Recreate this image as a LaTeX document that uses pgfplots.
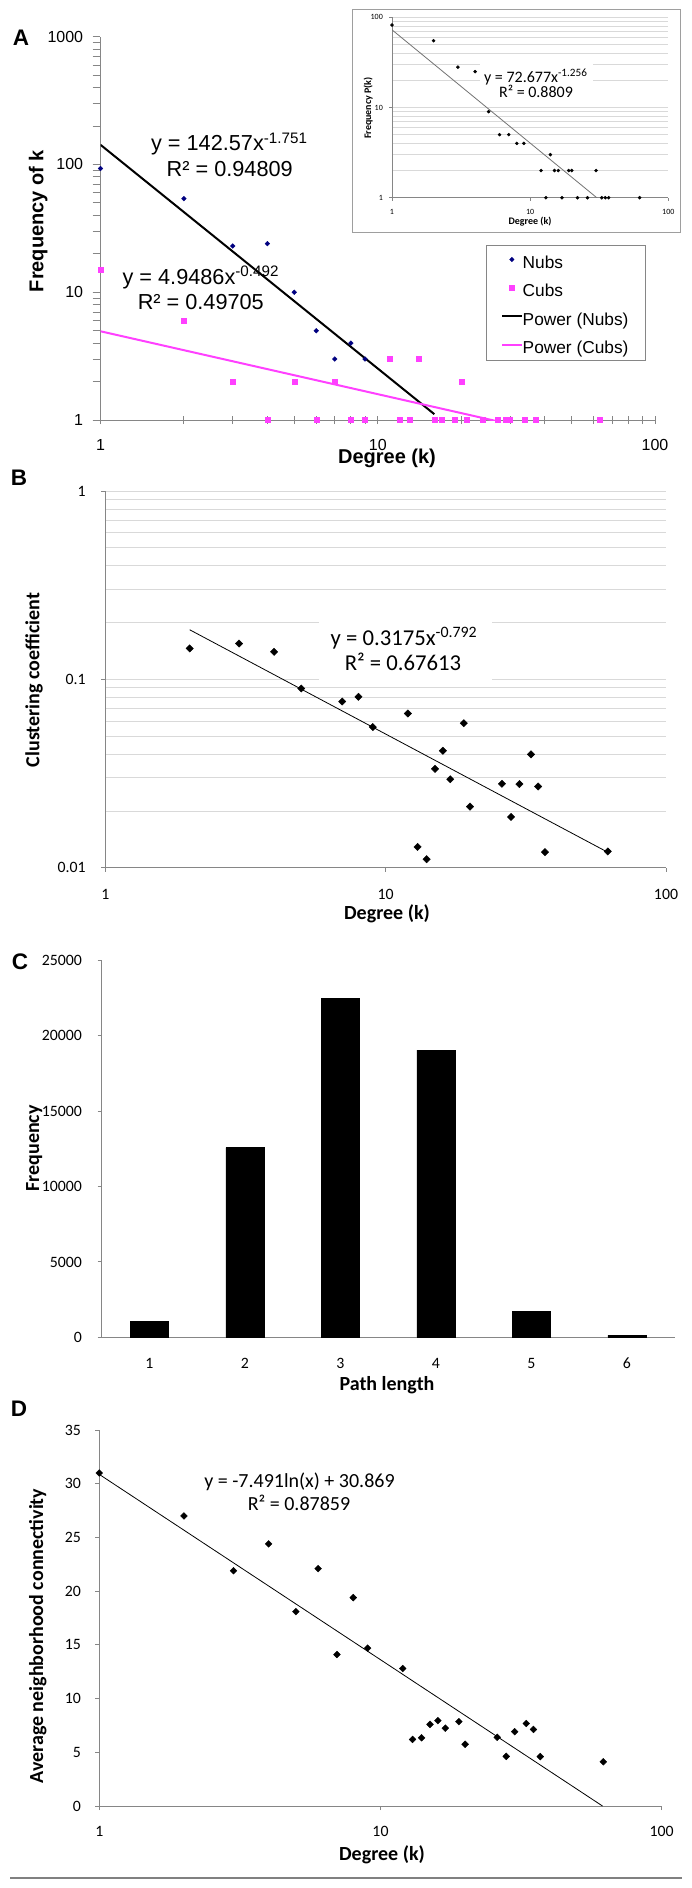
\documentclass[border=0pt]{standalone}
\usepackage{fontspec}
\setmainfont{Liberation Sans}
\newfontfamily\calibri{Carlito}
\usepackage{pgfplots}
\pgfplotsset{compat=1.18}
\definecolor{axgray}{RGB}{134,134,134}
\definecolor{gridgray}{RGB}{217,217,217}
\definecolor{nubs}{RGB}{0,0,128}
\definecolor{cubs}{RGB}{255,64,255}
\newcommand{\fs}[1]{\fontsize{#1}{#1}\selectfont}
\pgfplotsset{
  excel/.style={
    scale only axis,
    axis x line=bottom, axis y line=left,
    axis line style={-, axgray, line width=1pt},
    every tick/.style={axgray, line width=1pt},
    tick label style={inner sep=0pt},
    tick align=outside, major tick length=4pt,
    minor tick length=0pt,
  },
}
\begin{document}
\begin{tikzpicture}
\useasboundingbox (0pt,0pt) rectangle (691pt,-1888pt);

% ---------------- A ----------------
\begin{axis}[excel, xmode=log, ymode=log,
  width=554.5pt, height=383.3pt, at={(100.5pt,-420pt)}, anchor=south west,
  xmin=1, xmax=100, ymin=1, ymax=1000,
  xtick={1,10,100}, xticklabels={1,10,100},
  minor xtick={2,3,4,5,6,7,8,9,20,30,40,50,60,70,80,90},
  ytick={1,10,100,1000}, yticklabels={1,10,100,1000},
  tick align=center, major tick length=8pt, minor tick length=8pt,
  ytick style={xshift=-4pt},
  tick label style={font=\fs{16}},
  xticklabel style={yshift=-15.6pt}, yticklabel style={xshift=-13.2pt},
  legend style={draw=none, fill=none, at={(0.7223,0.4284)}, anchor=north west,
    inner sep=0pt, outer sep=0pt, font=\fs{17.3}, row sep=12.3pt, column sep=0pt,
    nodes={inner sep=0pt, text height=12.5pt, text depth=3.6pt, anchor=base west}},
  legend cell align=left,
  legend image code/.code={\draw[mark repeat=2,mark phase=2,#1] plot coordinates {(0pt,0pt)(9.85pt,0pt)(19.7pt,0pt)};},
  legend image post style={yshift=8.8pt},
]
\addplot[only marks, color=nubs, mark=square*, mark size=1.65pt, mark options={rotate=45}]
  coordinates {(1,93)(2,54)(3,23)(4,24)(5,10)(6,5)(7,3)(8,4)(9,3)};
\addlegendentry{Nubs}
\addplot[only marks, color=cubs, mark=square*, mark size=2.5pt]
  coordinates {(1,15)(2,6)(3,2)(5,2)(7,2)(11,3)(14,3)(20,2)
  (4,1)(6,1)(8,1)(9,1)(12,1)(13,1)(16,1)(17,1)(19,1)(21,1)(24,1)(27,1)(29,1)(30,1)(34,1)(37,1)(63,1)};
\addlegendentry{Cubs}
\addplot[black, line width=2pt] coordinates {(1,142.57)(16,1.111)};
\addlegendentry{Power (Nubs)}
\addplot[cubs, line width=2pt] coordinates {(1,4.9486)(63,0.644)};
\addlegendentry{Power (Cubs)}
\end{axis}
\draw[axgray, line width=1pt] (486pt,-245.7pt) rectangle (645pt,-360.3pt);
\node[font=\fs{21.7}, anchor=base] at (229.3pt,-150.7pt) {y = 142.57x\textsuperscript{-1.751}};
\node[font=\fs{21.7}, anchor=base] at (229.7pt,-176pt) {R² = 0.94809};
\node[font=\fs{21.7}, anchor=base] at (200.8pt,-284pt) {y = 4.9486x\textsuperscript{-0.492}};
\node[font=\fs{21.7}, anchor=base] at (200.8pt,-309.3pt) {R² = 0.49705};
\node[font=\bfseries\fs{20}, rotate=90, anchor=base] at (43.3pt,-221pt) {Frequency of k};
\node[font=\bfseries\fs{20}, anchor=base] at (387pt,-463.5pt) {Degree (k)};
\node[font=\bfseries\fs{22.5}, anchor=base] at (21pt,-45.7pt) {A};

% ---------------- inset ----------------
\fill[white] (352.7pt,-9.3pt) rectangle (680.7pt,-232.3pt);
\draw[axgray!80, line width=1pt] (352.7pt,-9.3pt) rectangle (680.7pt,-232.3pt);
\begin{axis}[excel, xmode=log, ymode=log,
  width=276.3pt, height=180.4pt, at={(392pt,-197.7pt)}, anchor=south west,
  xmin=1, xmax=100, ymin=1, ymax=100,
  xtick={1,10,100}, xticklabels={1,10,100},
  ytick={1,10,100}, yticklabels={1,10,100},
  minor ytick={2,3,4,5,6,7,8,9,20,30,40,50,60,70,80,90},
  ymajorgrids, yminorgrids, grid style={gridgray, line width=0.8pt},
  major tick length=3pt,
  tick label style={font=\calibri\fs{8}},
  xticklabel style={yshift=-8.1pt}, yticklabel style={xshift=-6pt},
]
\addplot[only marks, black, mark=square*, mark size=1.1pt, mark options={rotate=45}]
  coordinates {(1,82)(2,55)(3,28)(4,25)(5,9)(6,5)(7,5)(8,4)(9,4)(12,2)(13,1)(14,3)(15,2)(16,2)
  (17,1)(19,2)(20,2)(22,1)(26,1)(30,2)(33,1)(35,1)(37,1)(62,1)};
\addplot[black!55, line width=0.8pt] coordinates {(1,72.677)(62,0.408)};
\end{axis}
\fill[white] (480pt,-58pt) rectangle (592.7pt,-100pt);
\node[font=\calibri\fs{16}, anchor=base] at (535.8pt,-82.3pt) {y = 72.677x\textsuperscript{-1.256}};
\node[font=\calibri\fs{16}, anchor=base] at (536pt,-97.3pt) {R² = 0.8809};
\node[font=\calibri\bfseries\fs{10}, rotate=90, anchor=base] at (371pt,-108pt) {Frequency P(k)};
\node[font=\calibri\bfseries\fs{10}, anchor=base] at (530pt,-224pt) {Degree (k)};

% ---------------- B ----------------
\begin{axis}[excel, xmode=log, ymode=log,
  width=560.7pt, height=376.7pt, at={(105.3pt,-867.7pt)}, anchor=south west,
  xmin=1, xmax=100, ymin=0.01, ymax=1,
  xtick={1,10,100}, xticklabels={1,10,100},
  ytick={0.01,0.1,1}, yticklabels={0.01,0.1,1},
  minor ytick={0.02,0.03,0.04,0.05,0.06,0.07,0.08,0.09,0.2,0.3,0.4,0.5,0.6,0.7,0.8,0.9},
  ymajorgrids, yminorgrids, grid style={gridgray, line width=1pt},
  tick label style={font=\calibri\fs{15.8}},
  xticklabel style={yshift=-17.3pt}, yticklabel style={xshift=-15.5pt},
]
\addplot[only marks, black, mark=square*, mark size=2.6pt, mark options={rotate=45}]
  coordinates {(2,0.146)(3,0.155)(4,0.140)(5,0.0894)(7,0.0763)(8,0.0808)(9,0.0558)(12,0.0659)
  (13,0.0129)(14,0.0111)(15,0.0335)(16,0.0418)(17,0.0295)(19,0.0585)(20,0.0211)(26,0.0279)
  (28,0.0186)(30,0.0278)(33,0.0400)(35,0.0270)(37,0.0121)(62,0.0122)};
\addplot[black, line width=0.8pt] coordinates {(2,0.1834)(62,0.01208)};
\end{axis}
\fill[white] (319pt,-605pt) rectangle (492pt,-684pt);
\node[font=\calibri\fs{22.7}, anchor=base] at (404pt,-645pt) {y = 0.3175x\textsuperscript{-0.792}};
\node[font=\calibri\fs{22.7}, anchor=base] at (403pt,-670pt) {R² = 0.67613};
\node[font=\calibri\bfseries\fs{20}, rotate=90, anchor=base] at (39.3pt,-680pt) {Clustering coefficient};
\node[font=\calibri\bfseries\fs{20}, anchor=base] at (387pt,-919pt) {Degree (k)};
\node[font=\bfseries\fs{22.5}, anchor=base] at (19pt,-485.7pt) {B};

% ---------------- C ----------------
\begin{axis}[excel,
  width=573pt, height=376.8pt, at={(101.7pt,-1337.3pt)}, anchor=south west,
  xmin=0.5, xmax=6.5, ymin=0, ymax=25000,
  xtick={1,2,3,4,5,6}, xticklabels={1,2,3,4,5,6}, xtick style={draw=none},
  ytick={0,5000,10000,15000,20000,25000}, yticklabels={0,5000,10000,15000,20000,25000},
  scaled y ticks=false,
  tick label style={font=\calibri\fs{15.8}},
  xticklabel style={yshift=-16.5pt}, yticklabel style={xshift=-15.7pt},
]
\addplot[ybar, bar width=0.4, fill=black, draw=black]
  coordinates {(1,1080)(2,12590)(3,22500)(4,19050)(5,1700)(6,130)};
\end{axis}
\node[font=\calibri\bfseries\fs{20}, rotate=90, anchor=base] at (39pt,-1148.3pt) {Frequency};
\node[font=\calibri\bfseries\fs{20}, anchor=base] at (387pt,-1390.5pt) {Path length};
\node[font=\bfseries\fs{22.5}, anchor=base] at (20pt,-969.5pt) {C};

% ---------------- D ----------------
\begin{axis}[excel, xmode=log,
  width=562.4pt, height=376pt, at={(99.3pt,-1806pt)}, anchor=south west,
  xmin=1, xmax=100, ymin=0, ymax=35,
  xtick={1,10,100}, xticklabels={1,10,100},
  ytick={0,5,10,15,20,25,30,35}, yticklabels={0,5,10,15,20,25,30,35},
  tick label style={font=\calibri\fs{15.8}},
  xticklabel style={yshift=-15.7pt}, yticklabel style={xshift=-14.3pt},
]
\addplot[only marks, black, mark=square*, mark size=2.4pt, mark options={rotate=45}]
  coordinates {(1,31.0)(2,27.0)(3,21.9)(4,24.4)(5,18.1)(6,22.1)(7,14.1)(8,19.4)(9,14.7)(12,12.8)
  (13,6.2)(14,6.35)(15,7.6)(16,7.95)(17,7.25)(19,7.85)(20,5.75)(26,6.4)(28,4.62)(30,6.92)
  (33,7.68)(35,7.13)(37,4.6)(62,4.12)};
\addplot[black, line width=0.8pt] coordinates {(1,30.869)(61.6,0)};
\end{axis}
\node[font=\calibri\fs{20}, anchor=base] at (299.5pt,-1487.3pt) {y = -7.491ln(x) + 30.869};
\node[font=\calibri\fs{20}, anchor=base] at (299pt,-1510pt) {R² = 0.87859};
\node[font=\calibri\bfseries\fs{20}, rotate=90, anchor=base] at (43pt,-1636pt) {Average neighborhood connectivity};
\node[font=\calibri\bfseries\fs{20}, anchor=base] at (382pt,-1860pt) {Degree (k)};
\node[font=\bfseries\fs{22.5}, anchor=base] at (19pt,-1416pt) {D};
\draw[black!50, line width=2pt] (10pt,-1878.3pt) -- (681.7pt,-1878.3pt);
\end{tikzpicture}
\end{document}
